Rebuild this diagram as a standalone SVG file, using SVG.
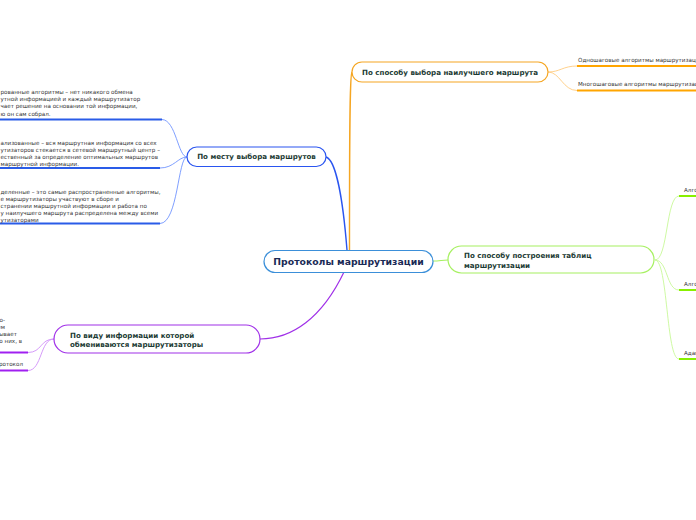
<svg xmlns="http://www.w3.org/2000/svg" width="696" height="520" viewBox="0 0 696 520">
<style>
.leaf{font-family:"DejaVu Sans",Verdana,sans-serif;font-size:5.6px;fill:#333}
.nt{font-family:"DejaVu Sans",Verdana,sans-serif;font-size:7.1px;font-weight:bold;fill:#1b3a33}
.ct{font-family:"DejaVu Sans",Verdana,sans-serif;font-size:9.3px;font-weight:bold;fill:#1a2a55}
.node{fill:#fff;stroke-width:1.2}
.c{fill:none}
</style>
<rect width="696" height="520" fill="#fff"/>
<g id="connectors">
  <path class="c" d="M326,157 C336,160 343,200 347,250" stroke="#2a55f0" stroke-width="1.4"/>
  <path class="c" d="M349.5,250 C349.5,150 349.5,74 352,72" stroke="#f5a623" stroke-width="1.4"/>
  <path class="c" d="M433,261 C440,261 442,260 448,260" stroke="#a6f060" stroke-width="1.2"/>
  <path class="c" d="M344,272 C322,318 292,339 260,339" stroke="#a030e8" stroke-width="1.2"/>
  <path class="c" d="M187,157 C178,157 176,120 162,119.5" stroke="#7094ff" stroke-width="0.9"/>
  <path class="c" d="M187,157 C178,157 174,168 160,168" stroke="#7094ff" stroke-width="0.9"/>
  <path class="c" d="M187,157 C178,157 178,223 160,223.5" stroke="#7094ff" stroke-width="0.9"/>
  <line x1="0" y1="119.5" x2="162" y2="119.5" stroke="#2a5ce8" stroke-width="2"/>
  <line x1="0" y1="168" x2="160" y2="168" stroke="#2a5ce8" stroke-width="2"/>
  <line x1="0" y1="223.5" x2="160" y2="223.5" stroke="#2a5ce8" stroke-width="2"/>
  <path class="c" d="M548,72 C560,72 563,66 577,66" stroke="#ffcc80" stroke-width="0.9"/>
  <path class="c" d="M548,72 C560,72 563,90.5 577,90.5" stroke="#ffcc80" stroke-width="0.9"/>
  <line x1="577" y1="66" x2="696" y2="66" stroke="#ffa500" stroke-width="2"/>
  <line x1="577" y1="90.5" x2="696" y2="90.5" stroke="#ffa500" stroke-width="2"/>
  <path class="c" d="M655,260 C668,260 666,196 679,196" stroke="#c8f898" stroke-width="0.9"/>
  <path class="c" d="M655,260 C668,260 666,290 679,290" stroke="#c8f898" stroke-width="0.9"/>
  <path class="c" d="M655,260 C668,260 666,359 679,359" stroke="#c8f898" stroke-width="0.9"/>
  <line x1="679" y1="196" x2="696" y2="196" stroke="#88f000" stroke-width="2"/>
  <line x1="679" y1="290" x2="696" y2="290" stroke="#88f000" stroke-width="2"/>
  <line x1="679" y1="359" x2="696" y2="359" stroke="#88f000" stroke-width="2"/>
  <path class="c" d="M54,339 C40,339 42,352.5 28,352.5" stroke="#d090f8" stroke-width="0.9"/>
  <path class="c" d="M54,339 C40,339 42,370.5 28,370.5" stroke="#d090f8" stroke-width="0.9"/>
  <line x1="0" y1="352.5" x2="28" y2="352.5" stroke="#a020f0" stroke-width="2"/>
  <line x1="0" y1="370.5" x2="28" y2="370.5" stroke="#a020f0" stroke-width="2"/>
</g>
<g id="central">
  <rect class="node" x="264" y="250.5" width="169" height="22" rx="11" stroke="#3b8fd9"/>
  <text class="ct" x="348.5" y="265" text-anchor="middle">Протоколы маршрутизации</text>
</g>
<g id="node-mesto">
  <rect class="node" x="187" y="147" width="139" height="19.5" rx="9.75" stroke="#2a55f0"/>
  <text class="nt" x="256.5" y="159.3" text-anchor="middle">По месту выбора маршрутов</text>
</g>
<g id="node-sposob-vybora">
  <rect class="node" x="352" y="62" width="196" height="20" rx="10" stroke="#f5a623"/>
  <text class="nt" x="450" y="74.5" text-anchor="middle">По способу выбора наилучшего маршрута</text>
</g>
<g id="node-postroenie">
  <rect class="node" x="448" y="246" width="206" height="27" rx="13.5" stroke="#a6f060"/>
  <text class="nt" x="464" y="258">По способу построения таблиц</text>
  <text class="nt" x="464" y="267.5">маршрутизации</text>
</g>
<g id="node-vid">
  <rect class="node" x="54" y="325" width="206" height="28" rx="14" stroke="#a030e8"/>
  <text class="nt" x="70" y="337.5">По виду информации которой</text>
  <text class="nt" x="70" y="347">обмениваются маршрутизаторы</text>
</g>
<g id="leaf-izol">
  <text class="leaf" x="0.5" y="94">рованные алгоритмы – нет никакого обмена</text>
  <text class="leaf" x="0.5" y="101.2">утной информацией и каждый маршрутизатор</text>
  <text class="leaf" x="0.5" y="108.4">чает решение на основании той информации,</text>
  <text class="leaf" x="0.5" y="115.6">ю он сам собрал.</text>
</g>
<g id="leaf-central">
  <text class="leaf" x="0.5" y="144.5">ализованные – вся маршрутная информация со всех</text>
  <text class="leaf" x="0.5" y="151.7">утизаторов стекается в сетевой маршрутный центр –</text>
  <text class="leaf" x="0.5" y="158.9">ественный за определение оптимальных маршрутов</text>
  <text class="leaf" x="0.5" y="166.1"> маршрутной информации.</text>
</g>
<g id="leaf-raspr">
  <text class="leaf" x="0.5" y="193.5">деленные – это самые распространенные алгоритмы,</text>
  <text class="leaf" x="0.5" y="200.7">е маршрутизаторы участвуют в сборе и</text>
  <text class="leaf" x="0.5" y="207.9">странении маршрутной информации и работа по</text>
  <text class="leaf" x="0.5" y="215.1">у наилучшего маршрута распределена между всеми</text>
  <text class="leaf" x="0.5" y="222.3">утизаторами</text>
</g>
<g id="leaf-vid1">
  <text class="leaf" x="5" y="322" text-anchor="end">но-</text>
  <text class="leaf" x="5" y="329" text-anchor="end">сем</text>
  <text class="leaf" x="17" y="336" text-anchor="end">ывает</text>
  <text class="leaf" x="22" y="343" text-anchor="end">о них, в</text>
</g>
<g id="leaf-vid2">
  <text class="leaf" x="23" y="366" text-anchor="end">ротокол</text>
</g>
<g id="leaf-odno">
  <text class="leaf" x="578" y="62">Одношаговые алгоритмы маршрутизаци</text>
</g>
<g id="leaf-mnogo">
  <text class="leaf" x="578" y="86">Многошаговые алгоритмы маршрутизаци</text>
</g>
<g id="leaf-green1"><text class="leaf" x="684" y="192">Алго</text></g>
<g id="leaf-green2"><text class="leaf" x="684" y="286">Алго</text></g>
<g id="leaf-green3"><text class="leaf" x="684" y="355">Адап</text></g>
</svg>
